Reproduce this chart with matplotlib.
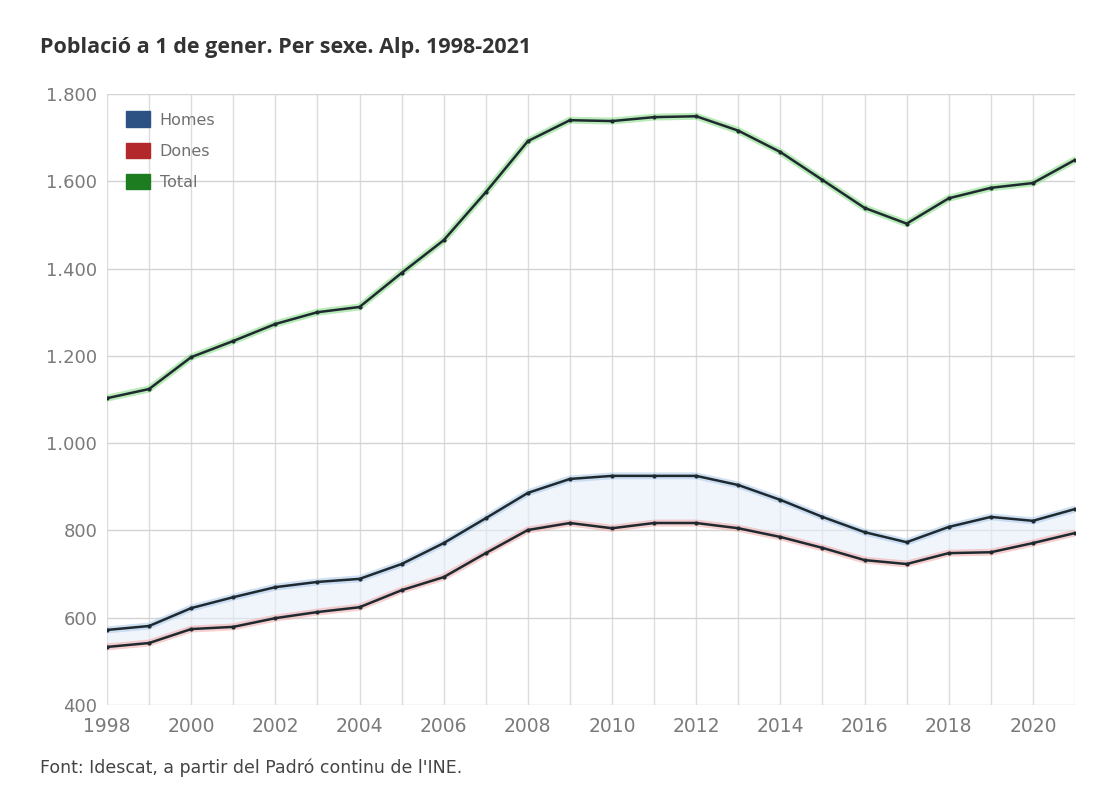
import matplotlib.pyplot as plt
from matplotlib.patches import Patch
from matplotlib.ticker import FuncFormatter, MultipleLocator

plt.rcParams['font.family'] = ['DejaVu Sans']

years = list(range(1998, 2022))
homes = [572, 581, 622, 647, 670, 682, 689, 723, 771, 828, 886, 918,
         925, 925, 925, 904, 870, 831, 796, 773, 808, 831, 822, 849]
dones = [533, 542, 574, 579, 599, 613, 624, 663, 693, 748, 801, 817,
         805, 817, 817, 805, 785, 760, 732, 723, 748, 750, 771, 794]
total = [1103, 1124, 1197, 1234, 1273, 1300, 1312, 1390, 1465, 1575, 1692, 1740,
         1738, 1747, 1749, 1716, 1667, 1603, 1539, 1503, 1561, 1585, 1596, 1649]

series = [
    ("Homes", homes, "#2b5283", "#a9c8e8"),
    ("Dones", dones, "#b3282a", "#f0a8a8"),
    ("Total", total, "#1c7c1f", "#7fdc7f"),
]

fig = plt.figure(figsize=(10.96, 7.93), dpi=100)
ax = fig.add_axes([107 / 1096, 1 - 705 / 793, (1075 - 107) / 1096, (705 - 94) / 793])

# faint shading between the two sexes
ax.fill_between(years, dones, homes, color="#e6effa", alpha=0.6, lw=0, zorder=1)

for name, vals, col, glow in series:
    ax.plot(years, vals, color=glow, lw=5, alpha=0.55, solid_capstyle="round", zorder=2)
    ax.plot(years, vals, color="#1f2a30", lw=1.8, zorder=3,
            marker="o", markersize=3, markerfacecolor="#1f2a30", markeredgewidth=0)

ax.set_xlim(1998, 2021)
ax.set_ylim(400, 1800)
ax.xaxis.set_major_locator(MultipleLocator(2))
ax.xaxis.set_minor_locator(MultipleLocator(1))
ax.yaxis.set_major_locator(MultipleLocator(200))
ax.yaxis.set_major_formatter(FuncFormatter(lambda v, p: f"{int(v):,}".replace(",", ".")))
ax.grid(which="both", axis="x", color="#dcdcdc", lw=1)
ax.grid(which="major", axis="y", color="#d4d4d4", lw=1)
ax.set_axisbelow(True)
for s in ax.spines.values():
    s.set_visible(False)
ax.tick_params(which="both", length=0)
ax.tick_params(axis="y", labelsize=13, labelcolor="#7a7a7a", pad=7)
ax.tick_params(axis="x", labelsize=13.5, labelcolor="#7a7a7a", pad=9)

handles = [Patch(facecolor=c, edgecolor=c) for _, _, c, _ in series]
leg = ax.legend(handles, [n for n, _, _, _ in series], loc="upper left",
                bbox_to_anchor=(0.005, 0.995), frameon=False, fontsize=11.5,
                handlelength=1.5, handleheight=1.1, labelspacing=0.95, handletextpad=0.6)
for t in leg.get_texts():
    t.set_color("#707070")

fig.text(40 / 1096, 1 - 48 / 793, "Població a 1 de gener. Per sexe. Alp. 1998-2021",
         fontsize=15.5, fontweight=700, color="#333333",
         va="center", family="Open Sans")
fig.text(40 / 1096, 1 - 768 / 793, "Font: Idescat, a partir del Padró continu de l'INE.",
         fontsize=12.5, color="#444444", va="center")

fig.savefig("out.png", dpi=100, facecolor="white")
